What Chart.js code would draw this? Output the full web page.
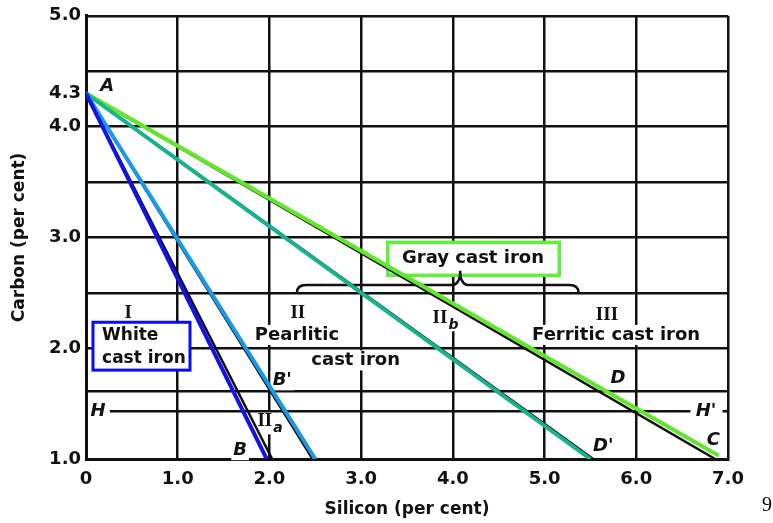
<!DOCTYPE html>
<html>
<head>
<meta charset="utf-8">
<script src="https://cdn.jsdelivr.net/npm/chart.js@4/dist/chart.umd.min.js"></script>
<style>
  html, body { margin: 0; padding: 0; background: #ffffff; }
  #wrap { width: 773px; height: 523px; position: relative; }
</style>
</head>
<body>
<div id="wrap"><canvas id="c" width="773" height="523"></canvas></div>
<script>
// Point A: the eutectic composition where every boundary starts
const pointSilicon = 0;
const pointCarbon = 4.3;

// Coloured boundary lines A-B, A-B', A-D', A-C (silicon %, carbon % at the far end)
const boundaryNames = ['A-B', "A-B'", "A-D'", 'A-C'];
const boundaryEndSilicon = [1.97, 2.5, 5.5, 6.9];
const boundaryEndCarbon = [1.0, 1.0, 1.0, 1.03];

// The original printed (black) boundary lines lying next to the coloured ones
const printedEndSilicon = [2.03, 2.47, 5.53, 6.86];
const printedEndCarbon = [1.0, 1.0, 1.0, 1.0];

// Line H - H' (carbon level), broken where the H' letter sits
const hLineCarbon = 1.43;
const hLineSilicon = [0.26, 6.59, null, 6.94, 7.0];

// Axis ticks
const siliconTicks = [0, 1, 2, 3, 4, 5, 6, 7];
const siliconTickLabels = ['0', '1.0', '2.0', '3.0', '4.0', '5.0', '6.0', '7.0'];
const carbonTicks = [1.0, 2.0, 3.0, 4.0, 4.3, 5.0];
const carbonTickLabels = ['1.0', '2.0', '3.0', '4.0', '4.3', '5.0'];
const carbonGrid = [1.0, 1.61, 2.0, 2.5, 3.0, 3.5, 4.0, 4.5, 5.0];

// Region and point labels: text, silicon %, carbon %
const regionLabels = [
  { text: 'Pearlitic', x: 2.30, y: 2.12 },
  { text: 'cast iron', x: 2.94, y: 1.89 },
  { text: 'Ferritic cast iron', x: 5.78, y: 2.12 }
];
const numeralLabels = [
  { text: 'I', sub: '', x: 0.46, y: 2.32 },
  { text: 'II', sub: '', x: 2.31, y: 2.32 },
  { text: 'II', sub: 'b', x: 3.86, y: 2.27 },
  { text: 'III', sub: '', x: 5.68, y: 2.30 },
  { text: 'II', sub: 'a', x: 1.95, y: 1.34 }
];
const pointLabels = [
  { text: 'A', x: 0.23, y: 4.36 },
  { text: 'B', x: 1.68, y: 1.08 },
  { text: "B'", x: 2.14, y: 1.71 },
  { text: 'C', x: 6.84, y: 1.17 },
  { text: 'D', x: 5.80, y: 1.73 },
  { text: "D'", x: 5.64, y: 1.11 },
  { text: 'H', x: 0.13, y: 1.43 },
  { text: "H'", x: 6.76, y: 1.43 }
];
// Framed labels: White cast iron and Gray cast iron
const whiteBox = { x0: 0.076, x1: 1.134, y0: 2.234, y1: 1.802, lines: ['White', 'cast iron'], tx: 0.175, ty: [2.115, 1.905] };
const grayBox = { x0: 3.29, x1: 5.16, y0: 2.955, y1: 2.658, text: 'Gray cast iron', tx: 4.22, ty: 2.81 };
// Brace grouping regions II and III under "Gray cast iron"
const brace = { x0: 2.3, xm: 4.08, x1: 5.37, yLine: 2.57, yEnd: 2.5, yPeak: 2.70 };

const boundaryColors = ['#1212e6', '#1a98ea', '#15b48e', '#62e62c'];
const INK = '#111111';
const SANS = "'DejaVu Sans', 'Liberation Sans', sans-serif";

const datasets = [];
boundaryNames.forEach((name, i) => {
  datasets.push({
    label: name,
    data: [{ x: pointSilicon, y: pointCarbon }, { x: boundaryEndSilicon[i], y: boundaryEndCarbon[i] }],
    borderColor: boundaryColors[i], borderWidth: 4, pointRadius: 0, showLine: true, fill: false
  });
});
boundaryNames.forEach((name, i) => {
  datasets.push({
    label: name + ' printed',
    data: [{ x: pointSilicon, y: pointCarbon }, { x: printedEndSilicon[i], y: printedEndCarbon[i] }],
    borderColor: INK, borderWidth: 2.5, pointRadius: 0, showLine: true, fill: false
  });
});
datasets.push({
  label: 'H',
  data: hLineSilicon.map(x => x === null ? { x: 6.75, y: null } : { x: x, y: hLineCarbon }),
  borderColor: INK, borderWidth: 2.5, pointRadius: 0, showLine: true, spanGaps: false, fill: false
});

const annotations = {
  id: 'annotations',
  beforeDatasetsDraw(chart) {
    const { ctx, scales: { x: sx, y: sy } } = chart;
    const px = v => sx.getPixelForValue(v);
    const py = v => sy.getPixelForValue(v);
    ctx.save();

    const blankText = (text, x, y, font, pad) => {
      ctx.font = font;
      const w = ctx.measureText(text).width;
      ctx.fillStyle = '#ffffff';
      ctx.fillRect(x - w / 2 - pad, y - 10, w + pad * 2, 20);
      ctx.fillStyle = INK;
      ctx.textAlign = 'center';
      ctx.textBaseline = 'middle';
      ctx.fillText(text, x, y);
    };

    // region names
    const regionFont = 'bold 18px ' + SANS;
    regionLabels.forEach(l => blankText(l.text, px(l.x), py(l.y), regionFont, 4));

    // roman numerals with optional subscript
    const numFont = "bold 19px 'Liberation Serif', 'DejaVu Serif', serif";
    const subFont = "italic bold 14px " + SANS;
    numeralLabels.forEach(l => {
      const x = px(l.x), y = py(l.y);
      ctx.font = numFont;
      const w = ctx.measureText(l.text).width;
      ctx.font = subFont;
      const ws = l.sub ? ctx.measureText(l.sub).width : 0;
      ctx.fillStyle = '#ffffff';
      ctx.fillRect(x - w / 2 - 3, y - 11, w + ws + 7, 24);
      ctx.fillStyle = INK;
      ctx.textAlign = 'center';
      ctx.textBaseline = 'middle';
      ctx.font = numFont;
      ctx.fillText(l.text, x, y);
      if (l.sub) {
        ctx.font = subFont;
        ctx.textAlign = 'left';
        ctx.fillText(l.sub, x + w / 2 + 1, y + 7);
      }
    });

    // point letters
    const letterFont = 'italic bold 18px ' + SANS;
    pointLabels.forEach(l => blankText(l.text, px(l.x), py(l.y), letterFont, 2));

    // White cast iron frame
    ctx.fillStyle = '#ffffff';
    ctx.fillRect(px(whiteBox.x0), py(whiteBox.y0), px(whiteBox.x1) - px(whiteBox.x0), py(whiteBox.y1) - py(whiteBox.y0));
    ctx.strokeStyle = '#0a0aff';
    ctx.lineWidth = 3;
    ctx.strokeRect(px(whiteBox.x0), py(whiteBox.y0), px(whiteBox.x1) - px(whiteBox.x0), py(whiteBox.y1) - py(whiteBox.y0));
    ctx.fillStyle = INK;
    ctx.font = 'bold 17px ' + SANS;
    ctx.textAlign = 'left';
    ctx.textBaseline = 'middle';
    whiteBox.lines.forEach((t, i) => ctx.fillText(t, px(whiteBox.tx), py(whiteBox.ty[i])));

    // Gray cast iron frame
    ctx.fillStyle = '#ffffff';
    ctx.fillRect(px(grayBox.x0), py(grayBox.y0), px(grayBox.x1) - px(grayBox.x0), py(grayBox.y1) - py(grayBox.y0));
    ctx.strokeStyle = '#5ef03a';
    ctx.lineWidth = 3.5;
    ctx.strokeRect(px(grayBox.x0), py(grayBox.y0), px(grayBox.x1) - px(grayBox.x0), py(grayBox.y1) - py(grayBox.y0));
    ctx.fillStyle = INK;
    ctx.font = regionFont;
    ctx.textAlign = 'center';
    ctx.fillText(grayBox.text, px(grayBox.tx), py(grayBox.ty));

    // brace
    const bx0 = px(brace.x0), bxm = px(brace.xm), bx1 = px(brace.x1);
    const byl = py(brace.yLine), bye = py(brace.yEnd), byp = py(brace.yPeak);
    const r = 9;
    ctx.strokeStyle = INK;
    ctx.lineWidth = 2.5;
    ctx.beginPath();
    ctx.moveTo(bx0, bye);
    ctx.quadraticCurveTo(bx0, byl, bx0 + r, byl);
    ctx.lineTo(bxm - r, byl);
    ctx.quadraticCurveTo(bxm, byl, bxm, byp);
    ctx.quadraticCurveTo(bxm, byl, bxm + r, byl);
    ctx.lineTo(bx1 - r, byl);
    ctx.quadraticCurveTo(bx1, byl, bx1, bye);
    ctx.stroke();

    ctx.restore();
  },
  afterDraw(chart) {
    // page number printed beside the figure
    const { ctx } = chart;
    ctx.save();
    ctx.fillStyle = '#000000';
    ctx.font = "20px 'Liberation Serif', 'DejaVu Serif', serif";
    ctx.textAlign = 'center';
    ctx.textBaseline = 'middle';
    ctx.fillText('9', 767, 506);
    ctx.restore();
  }
};

const tickFont = { family: SANS, size: 18, weight: 'bold' };

new Chart(document.getElementById('c'), {
  type: 'scatter',
  data: { datasets },
  options: {
    responsive: false,
    animation: false,
    events: [],
    layout: { padding: { top: 15, right: 45, left: 0, bottom: 0 } },
    plugins: { legend: { display: false }, tooltip: { enabled: false } },
    scales: {
      x: {
        type: 'linear', min: 0, max: 7,
        afterFit: s => { s.height = 64; },
        afterBuildTicks: s => { s.ticks = siliconTicks.map(v => ({ value: v })); },
        ticks: {
          autoSkip: false, maxRotation: 0, padding: 10, color: INK, font: tickFont,
          callback: v => siliconTickLabels[siliconTicks.indexOf(v)]
        },
        grid: { color: INK, lineWidth: 2.5, drawTicks: false },
        border: { color: INK, width: 3 },
        title: {
          display: true, text: 'Silicon (per cent)', color: INK,
          font: { family: SANS, size: 17, weight: 'bold' }, padding: { top: 0, bottom: 3 }
        }
      },
      y: {
        type: 'linear', min: 1, max: 5,
        afterFit: s => { s.width = 86; },
        afterBuildTicks: s => {
          const vals = Array.from(new Set(carbonGrid.concat(carbonTicks))).sort((a, b) => a - b);
          s.ticks = vals.map(v => ({ value: v }));
        },
        ticks: {
          autoSkip: false, padding: 5, color: INK, font: tickFont,
          callback: v => { const i = carbonTicks.indexOf(v); return i >= 0 ? carbonTickLabels[i] : ''; }
        },
        grid: {
          lineWidth: 2.5, drawTicks: false,
          color: c => (c.tick && c.tick.value === 4.3) ? 'rgba(0,0,0,0)' : INK
        },
        border: { color: INK, width: 3 },
        title: {
          display: true, text: 'Carbon (per cent)', color: INK,
          font: { family: SANS, size: 17, weight: 'bold' }, padding: { top: 9, bottom: 0 }
        }
      }
    }
  },
  plugins: [annotations]
});
</script>
</body>
</html>
